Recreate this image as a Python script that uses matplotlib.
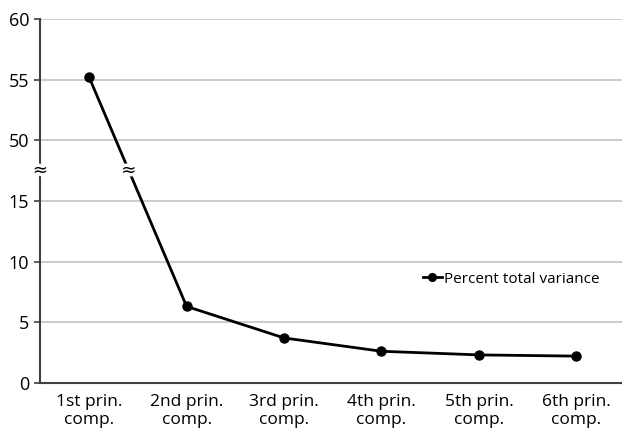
import matplotlib.pyplot as plt
import matplotlib.patheffects as pe
import numpy as np

# scree values, percent total variance
components = ["1st prin.\ncomp.", "2nd prin.\ncomp.", "3rd prin.\ncomp.",
              "4th prin.\ncomp.", "5th prin.\ncomp.", "6th prin.\ncomp."]
variance = [55.2, 6.3, 3.7, 2.6, 2.3, 2.2]
tick_values = [0, 5, 10, 15, 50, 55, 60]

# broken axis: everything above the break is shifted down by 30
BREAK_LOW, BREAK_HIGH = 15, 50
SHIFT = 30


def to_axis(v):
    v = np.asarray(v, dtype=float)
    return np.where(v >= BREAK_HIGH, v - SHIFT, v)


plt.rcParams['font.family'] = ['Open Sans', 'DejaVu Sans']

fig = plt.figure(figsize=(6.22, 4.34), dpi=100)
ax = fig.add_axes([0.065, 0.118, 0.94, 0.838])

x = np.arange(len(components))
y = to_axis(variance)
ax.plot(x, y, color="black", lw=2, marker="o", ms=6.5, label="Percent total variance")

ticks = to_axis(tick_values)
ax.set_yticks(ticks)
ax.set_yticklabels([str(t) for t in tick_values])
ax.set_ylim(0, 30)
ax.set_xlim(-0.5, len(components) - 0.5)
ax.set_xticks(x)
ax.set_xticklabels(components)

ax.set_axisbelow(True)
ax.yaxis.grid(color="#c4c4c4", lw=1.2)
for s in ["top", "right"]:
    ax.spines[s].set_visible(False)
for s in ["left", "bottom"]:
    ax.spines[s].set_color("#404040")
    ax.spines[s].set_linewidth(1.5)
ax.tick_params(axis="y", length=4, width=1.2, color="#404040", labelsize=13, pad=4)
ax.tick_params(axis="x", length=0, labelsize=12.5, pad=8)

# break markers on the axis and on the line, with a white halo to cut the lines
mid = (BREAK_LOW + (BREAK_HIGH - SHIFT)) / 2
frac = (mid - y[0]) / (y[1] - y[0])
halo = [pe.withStroke(linewidth=5, foreground="white")]
for bx in [-0.5, frac]:
    ax.text(bx, mid, "≈", ha="center", va="center", fontsize=13,
            family="DejaVu Sans", path_effects=halo, clip_on=False, zorder=5)

ax.legend(loc="center left", bbox_to_anchor=(0.63, 0.285), frameon=False,
          fontsize=11, handlelength=1.3, handletextpad=0.1, markerscale=0.85)

fig.savefig("out.png")
